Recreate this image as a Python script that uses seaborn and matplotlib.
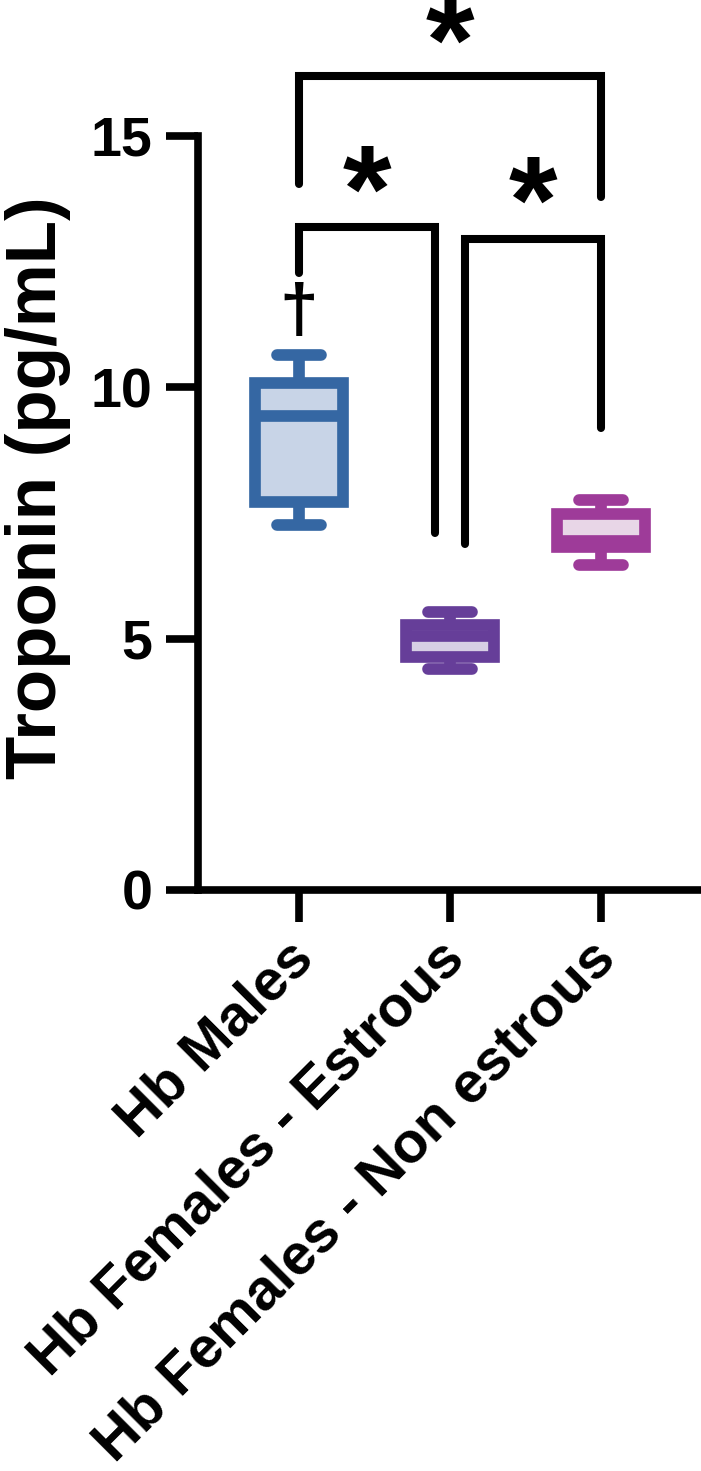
import numpy as np
import pandas as pd
import matplotlib
matplotlib.use("Agg")
import matplotlib.pyplot as plt
import matplotlib.transforms as mtransforms
import seaborn as sns

# ---- data ----
groups = ["Hb Males", "Hb Females - Estrous", "Hb Females - Non estrous"]
# five-number summaries (min, Q1, median, Q3, max)
males = [7.26, 7.72, 9.43, 10.09, 10.64]
estrous = [4.40, 4.63, 5.05, 5.27, 5.53]
non_estrous = [6.47, 6.82, 6.94, 7.48, 7.76]
face_colors = ["#c3d3ec", "#d6cbe8", "#ebd3ea"]
edge_colors = ["#3567a3", "#663e99", "#9e3b99"]
y_ticks = [0, 5, 10, 15]
y_label = "Troponin (pg/mL)"

# significance brackets: (x_left, x_right, y_left_end, y_top, y_right_end)
bracket_x1 = [0.0, 1.1, 0.0]
bracket_x2 = [0.9, 2.0, 2.0]
bracket_y1 = [12.27, 6.88, 14.04]
bracket_top = [13.19, 12.95, 16.19]
bracket_y2 = [7.10, 9.19, 13.79]
star_x = [0.45, 1.55, 1.0]
star_y = [13.74, 13.51, 16.70]
dagger_x, dagger_y = 0.0, 11.46

df = pd.DataFrame({
    "group": np.repeat(groups, 5),
    "value": males + estrous + non_estrous,
})

sns.set_theme(style="ticks")
plt.rcParams["font.family"] = ["Liberation Sans", "DejaVu Sans"]
for k in ["text.color", "axes.labelcolor", "xtick.color", "ytick.color", "axes.edgecolor"]:
    plt.rcParams[k] = "black"

fig = plt.figure(figsize=(7.01, 14.71), dpi=100)
ax = fig.add_axes([198 / 701, (1471 - 890) / 1471, (700 - 198) / 701, (890 - 136) / 1471])

lw = 8.4
sns.boxplot(data=df, x="group", y="value", hue="group", order=groups,
            hue_order=groups, palette=face_colors, whis=(0, 100), width=0.58,
            linewidth=lw, showfliers=False, legend=False, ax=ax,
            capprops=dict(solid_capstyle="round"),
            whiskerprops=dict(solid_capstyle="butt"),
            medianprops=dict(solid_capstyle="butt"),
            boxprops=dict(joinstyle="miter"))

for cont, ec in zip(ax.containers, edge_colors):
    for b in cont.boxes:
        b.set_edgecolor(ec)
    for ln in list(cont.whiskers) + list(cont.caps) + list(cont.medians):
        ln.set_color(ec)

ax.set_xlim(-0.669, 2.656)
ax.set_ylim(0, 15)
ax.set_yticks(y_ticks)
ax.set_xlabel("")
ax.set_ylabel(y_label, fontsize=51, fontweight="bold", color="black")
ax.yaxis.set_label_coords(-0.252, 0.533)

for s in ["top", "right"]:
    ax.spines[s].set_visible(False)
for s in ["left", "bottom"]:
    ax.spines[s].set_linewidth(5.5)
    ax.spines[s].set_color("black")
    ax.spines[s].set_capstyle("projecting")

ax.tick_params(axis="both", length=23, width=5.5, color="black",
               labelcolor="black", labelsize=40, pad=10)
for lab in ax.get_yticklabels():
    lab.set_fontweight("bold")
ax.set_xticks(range(len(groups)))
ax.set_xticklabels(groups, rotation=45, ha="right", va="center",
                   rotation_mode="anchor", fontweight="bold", fontsize=41.5)
ax.tick_params(axis="x", pad=16)
shift = mtransforms.ScaledTranslation(4.5 / 72, -4 / 72, fig.dpi_scale_trans)
for lab in ax.get_xticklabels():
    lab.set_transform(lab.get_transform() + shift)

# brackets
for x1, x2, y1, yt, y2 in zip(bracket_x1, bracket_x2, bracket_y1, bracket_top, bracket_y2):
    ax.plot([x1, x1, x2, x2], [y1, yt, yt, y2], color="black", lw=5.8,
            solid_joinstyle="miter", solid_capstyle="round", clip_on=False)

for sx, sy in zip(star_x, star_y):
    ax.text(sx, sy, "*", ha="center", va="center", fontsize=90,
            fontweight="bold", color="black", clip_on=False)

ax.text(dagger_x, dagger_y, "\u2020", ha="center", va="center", fontsize=50,
        fontweight="bold", color="black")

fig.savefig("out.png", dpi=100)
